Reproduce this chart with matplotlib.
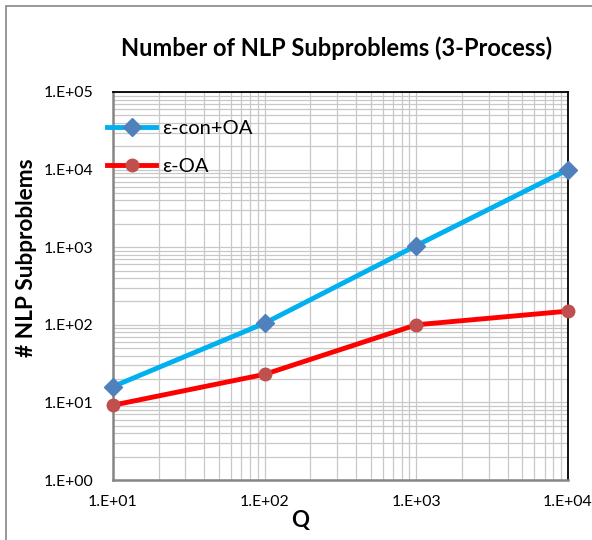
import matplotlib
matplotlib.use("Agg")
import matplotlib.pyplot as plt
from matplotlib.ticker import LogLocator, FixedLocator, FixedFormatter, NullFormatter
from matplotlib.patches import Rectangle

q_values = [10, 100, 1000, 10000]
eps_con_oa = [16, 105, 1050, 10000]
eps_oa = [9.2, 23, 100, 150]
series_names = ["ε-con+OA", "ε-OA"]
x_tick_labels = ["1.E+01", "1.E+02", "1.E+03", "1.E+04"]
y_tick_labels = ["1.E+00", "1.E+01", "1.E+02", "1.E+03", "1.E+04", "1.E+05"]

plt.rcParams['font.family'] = ['Lato', 'DejaVu Sans']

fig = plt.figure(figsize=(5.92, 5.4), dpi=100)
W, H = 592, 540
ax = fig.add_axes([113 / W, 1 - 480 / H, (568 - 113) / W, (480 - 92) / H])

ax.set_xscale('log')
ax.set_yscale('log')
ax.set_xlim(10, 10000)
ax.set_ylim(1, 100000)

ax.xaxis.set_major_locator(FixedLocator([10, 100, 1000, 10000]))
ax.xaxis.set_major_formatter(FixedFormatter(x_tick_labels))
ax.yaxis.set_major_locator(FixedLocator([1, 10, 100, 1000, 10000, 100000]))
ax.yaxis.set_major_formatter(FixedFormatter(y_tick_labels))
ax.xaxis.set_minor_locator(LogLocator(base=10, subs=range(2, 10)))
ax.yaxis.set_minor_locator(LogLocator(base=10, subs=range(2, 10)))
ax.xaxis.set_minor_formatter(NullFormatter())
ax.yaxis.set_minor_formatter(NullFormatter())

ax.grid(True, which='both', color='#c8c8c8', linewidth=0.9)
ax.set_axisbelow(True)
ax.tick_params(which='both', length=0, labelsize=11.4, colors='black')
ax.tick_params(axis='x', pad=11)
ax.tick_params(axis='y', pad=14)

for s in ['top', 'right']:
    ax.spines[s].set_color('black')
    ax.spines[s].set_linewidth(1.3)
for s in ['left', 'bottom']:
    ax.spines[s].set_color('#868686')
    ax.spines[s].set_linewidth(1.8)

ax.plot(q_values, eps_con_oa, color='#00B0F0', linewidth=3.5, marker='D',
        markersize=9, markerfacecolor='#4F81BD', markeredgecolor='#4F81BD',
        label=series_names[0], clip_on=False, zorder=4)
ax.plot(q_values, eps_oa, color='#FF0000', linewidth=3.5, marker='o',
        markersize=9, markerfacecolor='#C0504D', markeredgecolor='#C0504D',
        label=series_names[1], clip_on=False, zorder=4)

leg = ax.legend(loc='upper left', bbox_to_anchor=(-0.03, 0.95), frameon=False,
                fontsize=14.5, handlelength=2.4, handletextpad=0.3,
                labelspacing=1.05, borderaxespad=0)

fig.text(337 / W, 1 - 48 / H, "Number of NLP Subproblems (3-Process)",
         ha='center', va='center', fontsize=17, fontweight='bold')
fig.text(27 / W, 1 - 258 / H, "# NLP Subproblems", rotation=90,
         ha='center', va='center', fontsize=16.3, fontweight='bold')
fig.text(300 / W, 1 - 520 / H, "Q", ha='center', va='center',
         fontsize=16, fontweight='bold')

fig.patches.append(Rectangle((6 / W, -0.05), 1.1, 1.05 - 6 / H,
                             transform=fig.transFigure, fill=False,
                             edgecolor='#868686', linewidth=1.2))

fig.savefig("out.png", dpi=100)
